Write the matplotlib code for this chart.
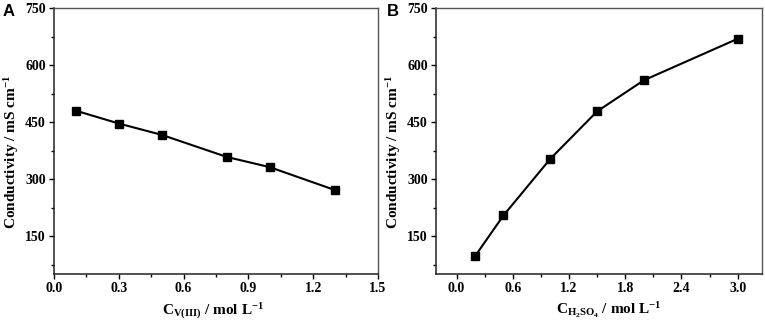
import numpy as np
import matplotlib.pyplot as plt
from matplotlib.ticker import MultipleLocator, AutoMinorLocator

# panel A: conductivity vs V(III) concentration
conc_v = [0.1, 0.3, 0.5, 0.8, 1.0, 1.3]
cond_v = [480, 446, 416, 358, 331, 271]

# panel B: conductivity vs H2SO4 concentration
conc_acid = [0.2, 0.5, 1.0, 1.5, 2.0, 3.0]
cond_acid = [98, 204, 353, 478, 560, 669]

plt.rcParams['font.family'] = ['Liberation Serif', 'DejaVu Serif']
plt.rcParams['font.weight'] = 'bold'
plt.rcParams['mathtext.fontset'] = 'custom'
plt.rcParams['mathtext.rm'] = 'Liberation Serif:bold'
plt.rcParams['mathtext.bf'] = 'Liberation Serif:bold'
plt.rcParams['mathtext.it'] = 'Liberation Serif:bold'
plt.rcParams['mathtext.default'] = 'bf'

fig = plt.figure(figsize=(7.65, 3.24), dpi=100)
axA = fig.add_axes([54/765, 1 - 274/324, 324/765, 266/324])
axB = fig.add_axes([436/765, 1 - 274/324, 326/765, 266/324])


def style_axis(ax, xmin, xmax, xstep):
    ax.set_ylim(50, 750)
    ax.set_xlim(xmin, xmax)
    ax.yaxis.set_major_locator(MultipleLocator(150))
    ax.xaxis.set_major_locator(MultipleLocator(xstep))
    ax.xaxis.set_minor_locator(AutoMinorLocator(2))
    ax.yaxis.set_minor_locator(AutoMinorLocator(2))
    ax.xaxis.set_major_formatter(plt.FormatStrFormatter('%.1f'))
    ax.tick_params(which='both', direction='out', top=False, right=False,
                   labelsize=10, width=1.0)
    ax.tick_params(which='major', length=3.5, pad=2.5)
    ax.tick_params(which='minor', length=2)
    for s in ['left', 'bottom']:
        ax.spines[s].set_linewidth(1.1)
        ax.spines[s].set_color('#222222')
    for s in ['top', 'right']:
        ax.spines[s].set_linewidth(1.0)
        ax.spines[s].set_color('#555555')
    for lbl in ax.get_xticklabels() + ax.get_yticklabels():
        lbl.set_fontweight('bold')
    ax.set_ylabel('Conductivity / mS cm$^{-1}$', fontsize=11,
                  fontweight='bold', labelpad=3)
    ax.yaxis.label.set_y(0.46)


axA.plot(conc_v, cond_v, color='black', marker='s', markersize=6, linewidth=1.5)
style_axis(axA, 0.0, 1.5, 0.3)
axA.set_xlabel('C$_{V(III)}$ / mol L$^{-1}$', fontsize=11,
               fontweight='bold', labelpad=4)
axA.xaxis.label.set_x(0.49)

axB.plot(conc_acid, cond_acid, color='black', marker='s', markersize=6, linewidth=1.5)
style_axis(axB, -0.22, 3.26, 0.6)
axB.set_xlabel('C$_{H_2SO_4}$ / mol L$^{-1}$', fontsize=11,
               fontweight='bold', labelpad=4)
axB.xaxis.label.set_x(0.53)

fig.text(3/765, 1 - 11/324, 'A', fontsize=12, fontweight='bold',
         family='Liberation Sans', va='center', ha='left')
fig.text(387/765, 1 - 11/324, 'B', fontsize=12, fontweight='bold',
         family='Liberation Sans', va='center', ha='left')

fig.savefig('out.png', dpi=100)
